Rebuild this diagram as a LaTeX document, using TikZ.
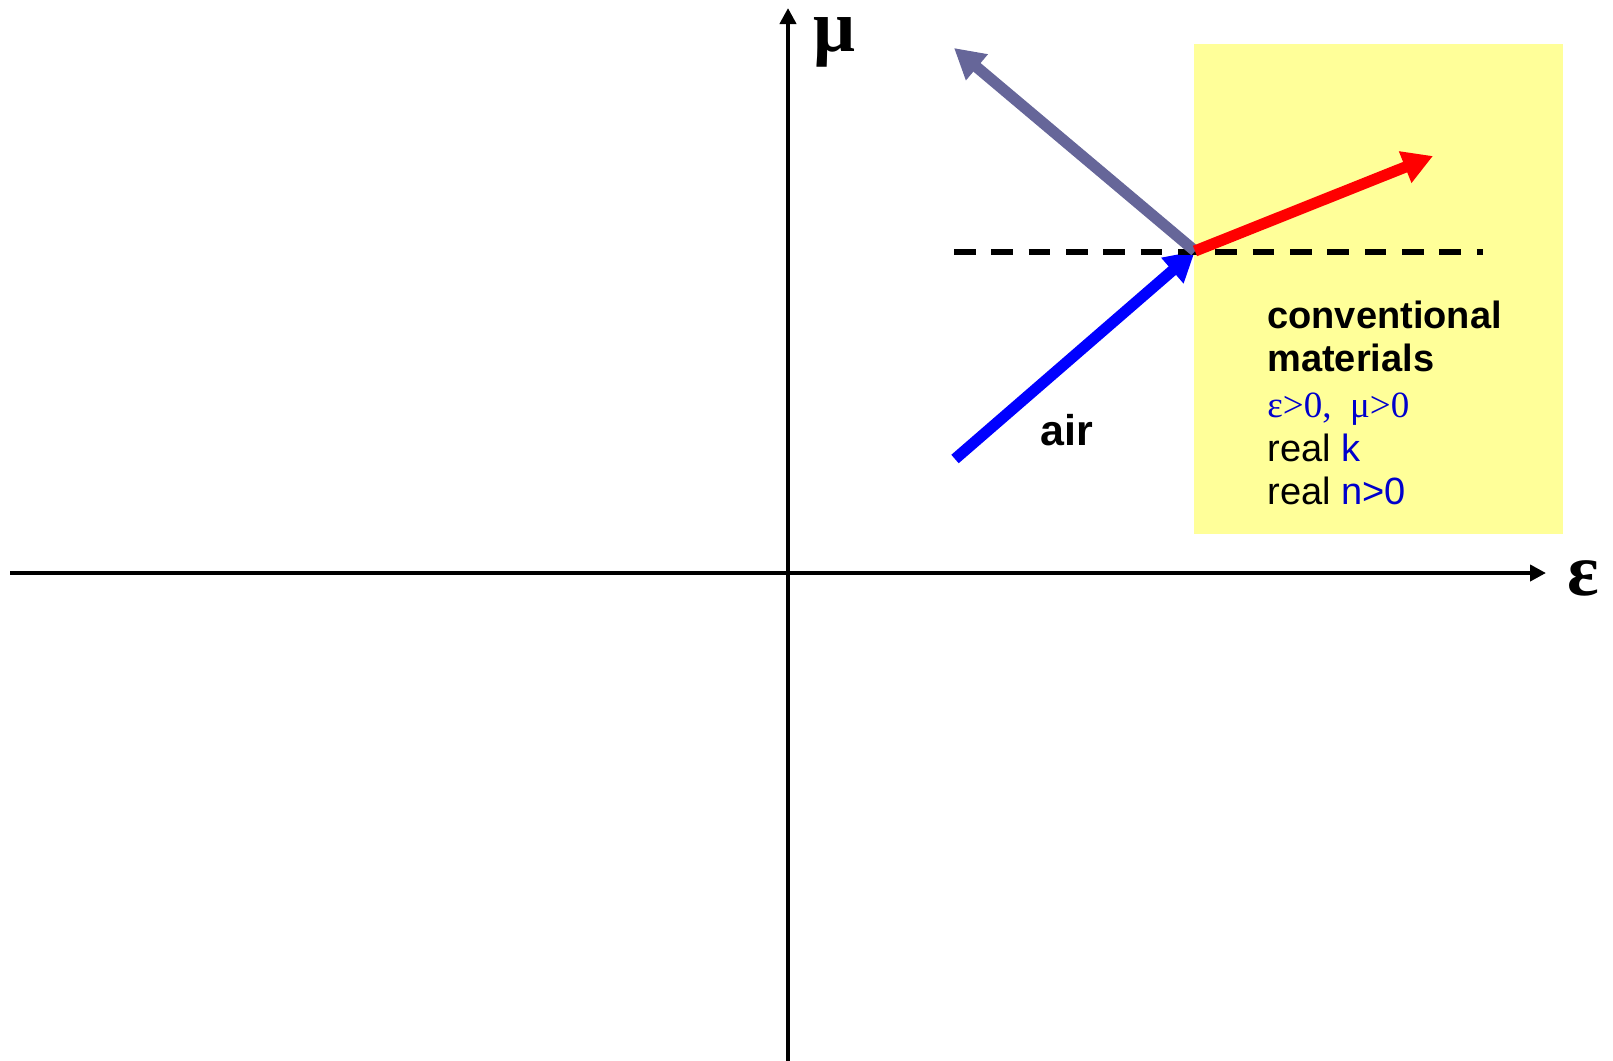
\documentclass[tikz,border=0pt]{standalone}
\usepackage{fontspec}
\setmainfont{Liberation Sans}
\newfontfamily\timesfont{Liberation Serif}
\usetikzlibrary{arrows.meta}
\definecolor{boxyellow}{HTML}{FFFF99}
\definecolor{reflpurple}{HTML}{666699}
\definecolor{textblue}{HTML}{0000CC}
\begin{document}
\begin{tikzpicture}[x=0.5pt,y=-0.5pt,
  axisline/.style={line width=2.3pt,-{Triangle[length=8pt,width=8pt]}},
  ray/.style={line width=5.6pt,-{Triangle[length=15pt,width=16pt]}},
  lbl/.style={anchor=base west,inner sep=0pt},
  axislbl/.style={lbl,text height=0.45em,text depth=0.2em,font=\timesfont\bfseries\fontsize{37pt}{40pt}\selectfont},
  boxtxt/.style={lbl,font=\fontsize{19pt}{22pt}\selectfont},
  boxbold/.style={lbl,font=\bfseries\fontsize{19pt}{22pt}\selectfont},
  interface/.style={line width=2.7pt,dash pattern=on 10.8pt off 7.87pt}]
\useasboundingbox (0,0) rectangle (1613,1061);
% region box
\fill[boxyellow] (1194,44) rectangle (1563,534);
% axes
\coordinate (ybot) at (788,1061);
\coordinate (ytop) at (788,8);
\coordinate (xleft) at (10,573);
\coordinate (xright) at (1546,573);
\draw[axisline] (ybot) -- (ytop);
\draw[axisline] (xleft) -- (xright);
\node[axislbl] (mulbl) at (813,51) {μ};
\node[axislbl] (epslbl) at (1567,595) {ε};
% rays
\coordinate (O) at (1195,251);
\coordinate (bt) at (955,459);
\coordinate (pt) at (954,48);
\coordinate (rt) at (1433,156);
\coordinate (dl) at (954,252);
\coordinate (dr) at (1483,252);
\draw[ray,blue] (bt) -- (O);
\draw[interface] (dl) -- (dr);
\draw[ray,reflpurple] (O) -- (pt);
\draw[ray,red] (O) -- (rt);
% labels
\node[lbl,font=\bfseries\fontsize{21.5pt}{24pt}\selectfont] (air) at (1040,445) {air};
\node[boxbold] (t1) at (1267,328) {conventional};
\node[boxbold] (t2) at (1267,371) {materials};
\node[lbl,font=\timesfont\fontsize{18.5pt}{22pt}\selectfont,text=textblue] (t3) at (1267,417) {ε>0,\ \ μ>0};
\node[boxtxt] (t4) at (1267,461) {real \textcolor{textblue}{k}};
\node[boxtxt] (t5) at (1267,504) {real \textcolor{textblue}{n>0}};
\end{tikzpicture}
\end{document}
